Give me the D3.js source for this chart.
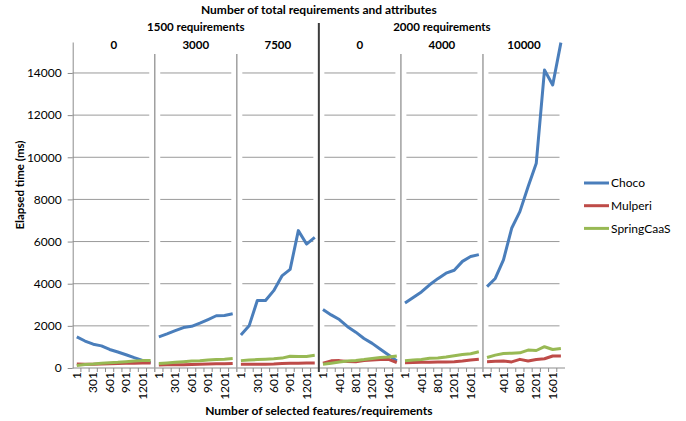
<!DOCTYPE html>
<html>
<head>
<meta charset="utf-8">
<script src="https://cdn.jsdelivr.net/npm/d3@7"></script>
<style>
  body { margin: 0; background: #fff; }
  text { font-family: Lato, "Open Sans", sans-serif; fill: #000; }
</style>
</head>
<body>
<script>
var width = 686, height = 421;

// data
const groups = ["1500 requirements", "2000 requirements"];
const panelLabels = ["0", "3000", "7500", "0", "4000", "10000"];
const panelGroup = [0, 0, 0, 1, 1, 1];
const cats1500 = ["1", "151", "301", "451", "601", "751", "901", "1051", "1201", "1351"];
const cats2000 = ["1", "201", "401", "601", "801", "1001", "1201", "1401", "1601", "1801"];
const yTicks = [0, 2000, 4000, 6000, 8000, 10000, 12000, 14000];

const seriesNames = ["Choco", "Mulperi", "SpringCaaS"];
const colors = ["#4a7ebb", "#be4b48", "#98b954"];

const choco = [
  [1480, 1280, 1130, 1050, 880, 760, 630, 490, 360, 260],
  [1480, 1620, 1770, 1920, 1980, 2130, 2300, 2480, 2490, 2570],
  [1570, 2000, 3200, 3200, 3670, 4370, 4680, 6520, 5880, 6200],
  [2780, 2520, 2300, 1960, 1700, 1400, 1170, 890, 620, 330],
  [3080, 3350, 3610, 3950, 4240, 4500, 4640, 5060, 5290, 5380],
  [3860, 4250, 5130, 6630, 7420, 8600, 9720, 14140, 13430, 15440]
];
const mulperi = [
  [190, 180, 180, 190, 200, 210, 220, 230, 240, 240],
  [140, 150, 150, 160, 170, 180, 190, 200, 200, 210],
  [180, 180, 180, 180, 190, 210, 220, 230, 240, 240],
  [230, 340, 350, 310, 300, 360, 380, 400, 410, 260],
  [250, 260, 270, 270, 280, 290, 300, 330, 380, 420],
  [300, 320, 330, 290, 410, 330, 400, 440, 570, 570]
];
const springcaas = [
  [120, 170, 190, 220, 250, 270, 300, 330, 350, 360],
  [210, 240, 270, 300, 330, 340, 380, 400, 420, 450],
  [350, 380, 400, 420, 440, 470, 560, 540, 550, 600],
  [180, 230, 280, 330, 360, 400, 450, 500, 520, 570],
  [340, 380, 400, 460, 470, 520, 580, 640, 680, 770],
  [500, 610, 690, 700, 720, 850, 830, 1010, 880, 930]
];
const allSeries = [choco, mulperi, springcaas];

var pLeft = 72.7, pRight = 565, pTop = 42, pBottom = 368;

var svg = d3.select("body").append("svg")
  .attr("width", width)
  .attr("height", height);

var y = d3.scaleLinear().domain([0, 15470]).range([pBottom, pTop]);

var xPanel = d3.scaleBand()
  .domain(d3.range(panelLabels.length))
  .range([pLeft, pRight])
  .padding(0);
var pw = xPanel.bandwidth();

function catsOf(p) { return panelGroup[p] == 0 ? cats1500 : cats2000; }
function xIn(p) {
  return d3.scalePoint().domain(catsOf(p)).range([0, pw]).padding(0.5);
}

// gridlines, broken at every panel edge
panelLabels.forEach(function(lbl, p) {
  var x0 = xPanel(p), x1 = x0 + pw;
  svg.append("g").selectAll("line")
    .data(yTicks.filter(function(t) { return t > 0; }))
    .enter().append("line")
    .attr("x1", p == 0 ? x0 : x0 + 5.5)
    .attr("x2", x1 - 5.5)
    .attr("y1", function(d) { return y(d); })
    .attr("y2", function(d) { return y(d); })
    .style("stroke", "#9a9a9a")
    .style("stroke-width", 1);
});

// y axis
var yAxis = svg.append("g")
  .attr("transform", "translate(" + pLeft + ",0)")
  .call(d3.axisLeft(y).tickValues(yTicks).tickFormat(d3.format("d"))
    .tickSize(5).tickSizeOuter(0).tickPadding(6));
yAxis.select(".domain").style("stroke", "#8c8c8c");
yAxis.selectAll(".tick line").style("stroke", "#8c8c8c");
yAxis.selectAll("text").style("font-size", "12px").style("font-family", "Lato, sans-serif");

// x axis base line
svg.append("line")
  .attr("x1", pLeft).attr("x2", pRight)
  .attr("y1", pBottom).attr("y2", pBottom)
  .style("stroke", "#8c8c8c");

panelLabels.forEach(function(lbl, p) {
  var x0 = xPanel(p);
  var xs = xIn(p);
  var cats = catsOf(p);
  var g = svg.append("g").attr("transform", "translate(" + x0 + ",0)");

  // small ticks between categories
  g.selectAll("line.tk")
    .data(d3.range(1, cats.length))
    .enter().append("line")
    .attr("x1", function(k) { return k * xs.step(); })
    .attr("x2", function(k) { return k * xs.step(); })
    .attr("y1", pBottom).attr("y2", pBottom + 4)
    .style("stroke", "#8c8c8c");

  // rotated category labels, every second one
  g.selectAll("text.cat")
    .data(cats.filter(function(c, i) { return i % 2 == 0; }))
    .enter().append("text")
    .attr("transform", function(c) { return "translate(" + xs(c) + "," + (pBottom + 4) + ") rotate(-90)"; })
    .attr("dy", "0.35em")
    .attr("text-anchor", "end")
    .style("font-size", "12px")
    .text(function(c) { return c; });

  // panel label
  g.append("text")
    .attr("x", pw / 2)
    .attr("y", 49)
    .attr("text-anchor", "middle")
    .style("font-size", "11.5px")
    .style("font-weight", "bold")
    .text(lbl);

  // series lines
  allSeries.forEach(function(s, si) {
    var line = d3.line()
      .x(function(d, i) { return xs(cats[i]); })
      .y(function(d) { return y(d); });
    g.append("path")
      .datum(s[p])
      .attr("d", line)
      .style("fill", "none")
      .style("stroke", colors[si])
      .style("stroke-width", 3)
      .style("stroke-linejoin", "round");
  });
});

// panel dividers
d3.range(1, panelLabels.length).forEach(function(p) {
  var major = panelGroup[p] != panelGroup[p - 1];
  svg.append("line")
    .attr("x1", xPanel(p)).attr("x2", xPanel(p))
    .attr("y1", major ? 23 : 54)
    .attr("y2", pBottom + 4)
    .style("stroke", major ? "#3c3c3c" : "#a0a0a0")
    .style("stroke-width", major ? 2 : 1.5);
});

// group labels
groups.forEach(function(gname, gi) {
  var ps = d3.range(panelLabels.length).filter(function(p) { return panelGroup[p] == gi; });
  var gx0 = xPanel(ps[0]), gx1 = xPanel(ps[ps.length - 1]) + pw;
  svg.append("text")
    .attr("x", (gx0 + gx1) / 2)
    .attr("y", 31)
    .attr("text-anchor", "middle")
    .style("font-size", "11.5px")
    .style("font-weight", "bold")
    .text(gname);
});

// titles
svg.append("text")
  .attr("x", (pLeft + pRight) / 2)
  .attr("y", 14)
  .attr("text-anchor", "middle")
  .style("font-size", "12px")
  .style("font-weight", "bold")
  .text("Number of total requirements and attributes");

svg.append("text")
  .attr("x", (pLeft + pRight) / 2)
  .attr("y", 415)
  .attr("text-anchor", "middle")
  .style("font-size", "12px")
  .style("font-weight", "bold")
  .text("Number of selected features/requirements");

svg.append("text")
  .attr("transform", "translate(24,185) rotate(-90)")
  .attr("text-anchor", "middle")
  .style("font-size", "11.5px")
  .style("font-weight", "bold")
  .text("Elapsed time (ms)");

// legend
var legend = svg.append("g").attr("transform", "translate(584,183)");
seriesNames.forEach(function(n, i) {
  legend.append("line")
    .attr("x1", 0).attr("x2", 25)
    .attr("y1", i * 22.7).attr("y2", i * 22.7)
    .style("stroke", colors[i])
    .style("stroke-width", 3);
  legend.append("text")
    .attr("x", 27)
    .attr("y", i * 22.7)
    .attr("dy", "0.35em")
    .style("font-size", "12px")
    .text(n);
});
</script>
</body>
</html>
